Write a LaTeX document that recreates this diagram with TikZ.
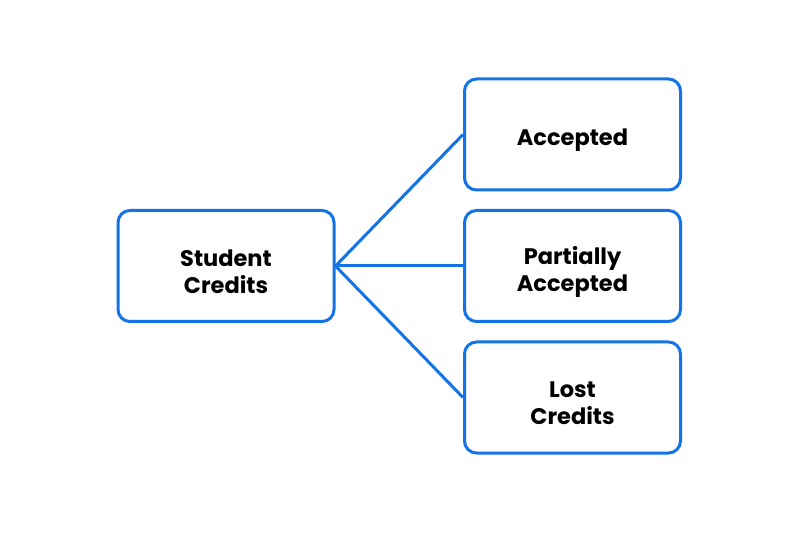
\documentclass[tikz,border=0pt]{standalone}
\usepackage{fontspec}
\setmainfont{Poppins}
\usetikzlibrary{positioning}
\definecolor{boxblue}{RGB}{20,115,230}
\tikzset{
  box/.style={draw=boxblue,line width=3pt,rounded corners=12pt,minimum width=216pt,minimum height=111pt},
  lbl/.style={align=center,yshift=-6pt,font=\bfseries\fontsize{22.5}{27}\selectfont},
  link/.style={draw=boxblue,line width=3pt}
}
\begin{document}
\begin{tikzpicture}[x=1pt,y=1pt]
\useasboundingbox (0,0) rectangle (800,533);
\node[box,label={[lbl]center:{Student\\Credits}}] (credits) at (226,267) {};
\node[box,label={[lbl]center:{Accepted}}] (accepted) at (572.5,398.5) {};
\node[box,label={[lbl]center:{Partially\\Accepted}}] (partial) at (572.5,267) {};
\node[box,label={[lbl]center:{Lost\\Credits}}] (lost) at (572.5,135.5) {};
%
\draw[link] (credits.east) -- (accepted.west);
\draw[link] (credits.east) -- (partial.west);
\draw[link] (credits.east) -- (lost.west);
\end{tikzpicture}
\end{document}
